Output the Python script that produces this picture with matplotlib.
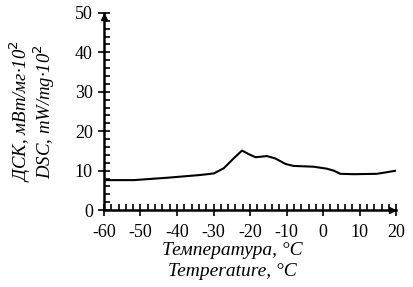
import matplotlib.pyplot as plt
from matplotlib.ticker import MultipleLocator

plt.rcParams["font.family"] = ["Liberation Serif", "DejaVu Serif"]
plt.rcParams["axes.unicode_minus"] = False

temp = [-59.5, -51.8, -42.7, -33.6, -29.9, -27.2, -24.5, -22.2, -20.4, -18.5,
        -15.4, -13.1, -10.3, -8.1, -2.6, 1.0, 2.9, 4.7, 8.3, 14.7, 17.4, 20.0]
dsc = [7.6, 7.6, 8.2, 8.9, 9.3, 10.6, 13.1, 15.1, 14.2, 13.4,
       13.7, 13.1, 11.7, 11.2, 11.0, 10.5, 10.0, 9.2, 9.1, 9.2, 9.6, 10.0]

xlabel = "Температура, °C\nTemperature, °C"
ylabel = "ДСК, мВт/мг·10$^2$\nDSC, mW/mg·10$^2$"

fig = plt.figure(figsize=(4.14, 2.87), dpi=100)
ax = fig.add_axes([0.251, 0.268, 0.706, 0.687])

ax.plot(temp, dsc, color="black", lw=1.5)

ax.set_xlim(-60, 20)
ax.set_ylim(0, 50)
ax.xaxis.set_major_locator(MultipleLocator(10))
ax.xaxis.set_minor_locator(MultipleLocator(2))
ax.yaxis.set_major_locator(MultipleLocator(10))
ax.yaxis.set_minor_locator(MultipleLocator(2))

for s in ["top", "right"]:
    ax.spines[s].set_visible(False)
for s in ["left", "bottom"]:
    ax.spines[s].set_linewidth(1.8)

ax.tick_params(which="major", direction="inout", length=8, width=1.2, labelsize=13)
ax.tick_params(axis="x", which="major", pad=6)
ax.tick_params(axis="y", which="major", pad=4)
ax.tick_params(which="minor", direction="in", length=4, width=1.2)

# small arrow heads at the axis ends
ax.plot(0, 0.98, "^k", ms=4, transform=ax.transAxes, clip_on=False)
ax.plot(0.985, 0, ">k", ms=4, transform=ax.transAxes, clip_on=False)

ax.set_xlabel(xlabel, fontstyle="italic", fontsize=14, linespacing=1.3)
ax.xaxis.set_label_coords(0.44, -0.16)
ax.set_ylabel(ylabel, fontstyle="italic", fontsize=13.5, linespacing=0.95)
ax.yaxis.set_label_coords(-0.16, 0.5)

fig.savefig("out.png", dpi=100)
